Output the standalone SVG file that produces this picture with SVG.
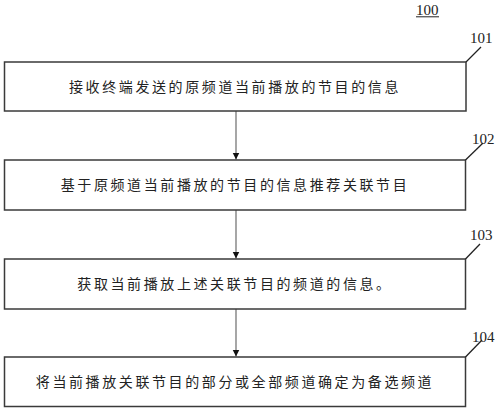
<svg xmlns="http://www.w3.org/2000/svg" width="500" height="408" viewBox="0 0 500 408">
<style>
.box{fill:#fff;stroke:#3a3a3a;stroke-width:1.5}
.lbl{font-family:"Noto Sans CJK SC","Noto Sans CJK JP",sans-serif;font-size:14px;fill:#222;text-anchor:middle;letter-spacing:2.6px}
.num{font-family:"Liberation Serif","Times New Roman",serif;font-size:15px;fill:#222}
.lead{stroke:#222;stroke-width:1.3;fill:none}
.conn{stroke:#777;stroke-width:1.3;fill:none}
</style>
<defs>
<marker id="ah" markerWidth="8" markerHeight="8" refX="7" refY="4" orient="auto" markerUnits="userSpaceOnUse">
<path d="M0,0.5 L7,4 L0,7.5 Z" fill="#111"/>
</marker>
</defs>
<rect width="500" height="408" fill="#fff"/>
<g id="title">
<text class="num" x="416" y="15" font-size="14">100</text>
<line x1="416" y1="16.8" x2="439" y2="16.8" stroke="#222" stroke-width="1"/>
</g>
<g id="connectors">
<line class="conn" x1="236" y1="111" x2="236" y2="159.5" marker-end="url(#ah)"/>
<line class="conn" x1="236" y1="210" x2="236" y2="258.5" marker-end="url(#ah)"/>
<line class="conn" x1="236" y1="309" x2="236" y2="356.5" marker-end="url(#ah)"/>
</g>
<g id="n101">
<rect class="box" x="4.5" y="62" width="461.5" height="49"/>
<text class="lbl" x="235" y="92">接收终端发送的原频道当前播放的节目的信息</text>
<line class="lead" x1="466" y1="62" x2="481" y2="47"/>
<text class="num" x="470" y="43">101</text>
</g>
<g id="n102">
<rect class="box" x="4.5" y="160" width="461" height="50"/>
<text class="lbl" x="235" y="190">基于原频道当前播放的节目的信息推荐关联节目</text>
<line class="lead" x1="465.5" y1="160" x2="483" y2="143"/>
<text class="num" x="472" y="144">102</text>
</g>
<g id="n103">
<rect class="box" x="4.5" y="259" width="461" height="50"/>
<text class="lbl" x="235" y="289">获取当前播放上述关联节目的频道的信息。</text>
<line class="lead" x1="465.5" y1="259" x2="480" y2="244"/>
<text class="num" x="470" y="240">103</text>
</g>
<g id="n104">
<rect class="box" x="4.5" y="357" width="461" height="49.5"/>
<text class="lbl" x="235" y="387">将当前播放关联节目的部分或全部频道确定为备选频道</text>
<line class="lead" x1="465.5" y1="357" x2="482" y2="340"/>
<text class="num" x="472" y="342">104</text>
</g>
</svg>
